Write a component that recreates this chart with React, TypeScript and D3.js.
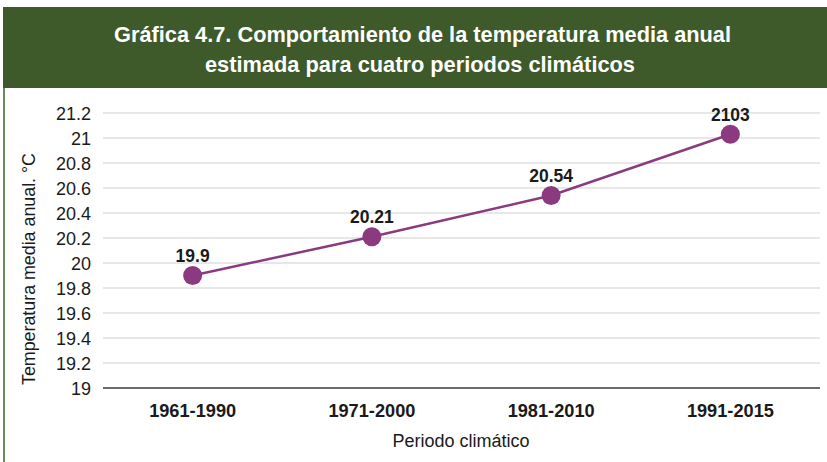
import React from "react";
import * as d3 from "d3";

const periods = ["1961-1990", "1971-2000", "1981-2010", "1991-2015"];
const temps = [19.9, 20.21, 20.54, 21.03];
const pointLabels = ["19.9", "20.21", "20.54", "2103"];
const yTicks = [19, 19.2, 19.4, 19.6, 19.8, 20, 20.2, 20.4, 20.6, 20.8, 21, 21.2];
const titleLines = [
  "Gráfica 4.7. Comportamiento de la temperatura media anual",
  "estimada para cuatro periodos climáticos",
];
const yTitle = "Temperatura media anual. °C";
const xTitle = "Periodo climático";

const W = 827;
const H = 462;
const plot = { left: 103, right: 820, top: 113, bottom: 388 };
const FONT = "'Liberation Sans', Arial, Helvetica, sans-serif";
const GREEN = "#3e5a2b";
const PURPLE = "#8c3a7f";

export default function App() {
  const x = d3
    .scaleBand<string>()
    .domain(periods)
    .range([plot.left, plot.right])
    .paddingInner(0)
    .paddingOuter(0);
  const y = d3.scaleLinear().domain([19, 21.2]).range([plot.bottom, plot.top]);
  const cx = (p: string) => (x(p) as number) + x.bandwidth() / 2;
  const line = d3
    .line<number>()
    .x((_, i) => cx(periods[i]))
    .y((d) => y(d));

  return (
    <svg
      width={W}
      height={H}
      style={{ position: "absolute", left: 0, top: 0, display: "block" }}
      fontFamily={FONT}
    >
      <rect x={0} y={0} width={W} height={H} fill="#ffffff" />
      {/* header */}
      <rect x={3} y={7} width={W - 3} height={81} fill={GREEN} />
      <line x1={4} y1={88} x2={4} y2={H} stroke="#4a6b33" strokeWidth={1.6} />
      <text
        x={422.5}
        y={41.5}
        textAnchor="middle"
        fill="#ffffff"
        fontSize={22}
        fontWeight="bold"
        textLength={617}
        lengthAdjust="spacingAndGlyphs"
      >
        {titleLines[0]}
      </text>
      <text
        x={420}
        y={71.5}
        textAnchor="middle"
        fill="#ffffff"
        fontSize={22}
        fontWeight="bold"
        textLength={430}
        lengthAdjust="spacingAndGlyphs"
      >
        {titleLines[1]}
      </text>

      {/* grid */}
      {yTicks.map((t) => (
        <g key={t}>
          {t !== 19 && (
            <line
              x1={plot.left}
              x2={plot.right}
              y1={y(t)}
              y2={y(t)}
              stroke="#d0d0d0"
              strokeWidth={1.2}
            />
          )}
          <text
            x={91}
            y={y(t) + 7}
            textAnchor="end"
            fontSize={18}
            fill="#1a1a1a"
          >
            {String(t)}
          </text>
        </g>
      ))}
      <line
        x1={plot.left}
        x2={plot.right}
        y1={y(19)}
        y2={y(19)}
        stroke="#3a3a3a"
        strokeWidth={1.5}
      />

      {/* category labels */}
      {periods.map((p) => (
        <text
          key={p}
          x={cx(p)}
          y={417}
          textAnchor="middle"
          fontSize={19}
          fontWeight="bold"
          fill="#1a1a1a"
          textLength={87}
          lengthAdjust="spacingAndGlyphs"
        >
          {p}
        </text>
      ))}
      <text x={461} y={447} textAnchor="middle" fontSize={18} fill="#1a1a1a">
        {xTitle}
      </text>
      <text
        transform={`translate(35,269) rotate(-90)`}
        textAnchor="middle"
        fontSize={18}
        fill="#1a1a1a"
        textLength={232}
        lengthAdjust="spacingAndGlyphs"
      >
        {yTitle}
      </text>

      {/* series */}
      <path d={line(temps) || ""} fill="none" stroke={PURPLE} strokeWidth={2.5} />
      {temps.map((v, i) => (
        <g key={i}>
          <circle cx={cx(periods[i])} cy={y(v)} r={9.5} fill={PURPLE} />
          <text
            x={cx(periods[i])}
            y={y(v) - 13.5}
            textAnchor="middle"
            fontSize={17.5}
            fontWeight="bold"
            fill="#1a1a1a"
          >
            {pointLabels[i]}
          </text>
        </g>
      ))}
    </svg>
  );
}
